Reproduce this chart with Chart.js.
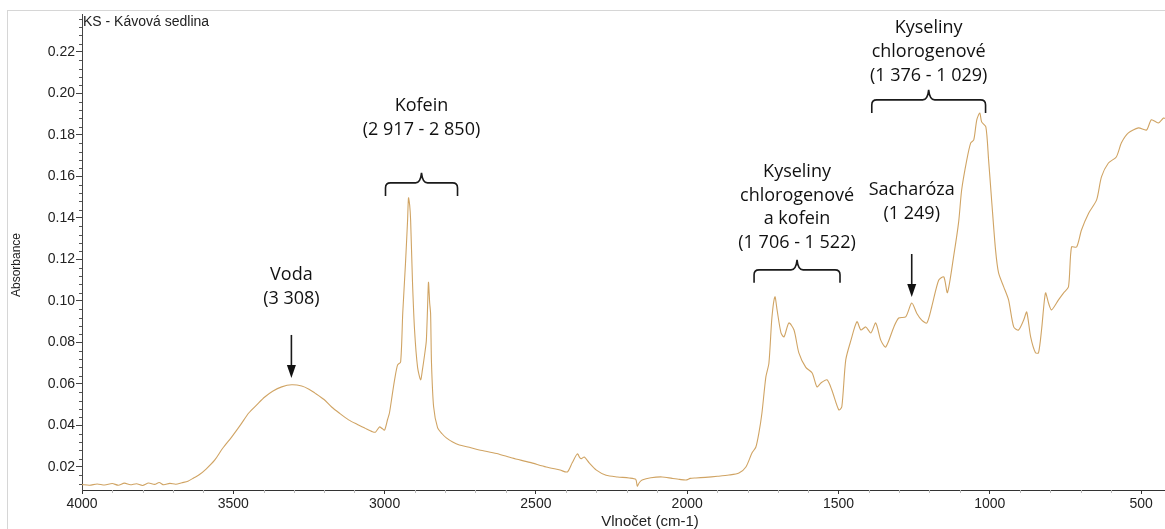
<!DOCTYPE html>
<html>
<head>
<meta charset="utf-8">
<title>KS - Kávová sedlina</title>
<script src="https://cdn.jsdelivr.net/npm/chart.js@4.4.0/dist/chart.umd.min.js"></script>
<style>
  html, body { margin: 0; padding: 0; background: #fff; }
  #wrap { position: relative; width: 1165px; height: 529px; overflow: hidden; }
  #frame { position: absolute; left: 7px; top: 10px; right: -2px; bottom: -2px;
           border-left: 1px solid #d6d6d6; border-top: 1px solid #d6d6d6; }
  #chart-ftir { position: absolute; left: 0; top: 0; }
</style>
</head>
<body>
<div id="wrap">
  <div id="frame"></div>
  <canvas id="chart-ftir" width="1165" height="529"></canvas>
</div>
<script>
// FTIR spektrum - kávová sedlina (vlnočet v cm-1, absorbance)
var wavenumbers = [
    4000, 3975, 3950, 3925, 3900, 3880, 3860, 3840, 3820, 3800,
    3780, 3760, 3745, 3730, 3710, 3690, 3670, 3650, 3630, 3614,
    3590, 3561, 3535, 3505, 3475, 3449, 3420, 3396, 3370, 3340,
    3307, 3274, 3250, 3231, 3200, 3175, 3150, 3119, 3090, 3066,
    3040, 3030, 3017, 3008, 3000, 2990, 2984, 2975, 2967, 2957,
    2947, 2940, 2931, 2924, 2921, 2917, 2914, 2908, 2901, 2891,
    2881, 2875, 2866, 2862, 2858, 2855, 2851, 2848, 2845, 2838,
    2825, 2810, 2796, 2775, 2753, 2720, 2687, 2630, 2578, 2520,
    2466, 2420, 2396, 2380, 2363, 2355, 2350, 2340, 2324, 2300,
    2268, 2230, 2192, 2170, 2165, 2158, 2149, 2120, 2083, 2050,
    2025, 2004, 1990, 1971, 1940, 1900, 1862, 1829, 1806, 1786,
    1773, 1763, 1753, 1740, 1730, 1720, 1710, 1703, 1690, 1680,
    1664, 1647, 1631, 1608, 1587, 1571, 1558, 1538, 1522, 1499,
    1489, 1476, 1459, 1439, 1426, 1410, 1393, 1377, 1360, 1344,
    1317, 1301, 1278, 1258, 1241, 1225, 1208, 1192, 1169, 1152,
    1140, 1119, 1103, 1093, 1076, 1063, 1053, 1043, 1033, 1027,
    1013, 1004, 994, 981, 971, 954, 938, 921, 905, 888,
    878, 865, 849, 839, 829, 816, 806, 796, 773, 756,
    740, 730, 713, 697, 673, 647, 631, 608, 582, 565,
    542, 509, 482, 466, 443, 426, 421
];
var absorbance = [
    0.0115, 0.0112, 0.0118, 0.0113, 0.0120, 0.0112, 0.0122, 0.0114, 0.0119, 0.0111,
    0.0123, 0.0116, 0.0125, 0.0114, 0.0121, 0.0117, 0.0124, 0.0131, 0.0148, 0.0161,
    0.0190, 0.0234, 0.0290, 0.0345, 0.0405, 0.0460, 0.0503, 0.0537, 0.0565, 0.0586,
    0.0596, 0.0590, 0.0575, 0.0557, 0.0525, 0.0489, 0.0460, 0.0427, 0.0405, 0.0388,
    0.0370, 0.0368, 0.0393, 0.0385, 0.0378, 0.0430, 0.0460, 0.0545, 0.0620, 0.0692,
    0.0706, 0.0942, 0.1180, 0.1390, 0.1497, 0.1460, 0.1390, 0.1100, 0.0860, 0.0680,
    0.0620, 0.0668, 0.0760, 0.0810, 0.0970, 0.1090, 0.0990, 0.0940, 0.0700, 0.0490,
    0.0390, 0.0360, 0.0340, 0.0320, 0.0306, 0.0295, 0.0282, 0.0265, 0.0243, 0.0222,
    0.0200, 0.0185, 0.0176, 0.0220, 0.0263, 0.0245, 0.0240, 0.0248, 0.0220, 0.0185,
    0.0160, 0.0152, 0.0147, 0.0140, 0.0108, 0.0125, 0.0137, 0.0148, 0.0152, 0.0145,
    0.0140, 0.0137, 0.0145, 0.0147, 0.0150, 0.0155, 0.0161, 0.0171, 0.0200, 0.0267,
    0.0296, 0.0364, 0.0460, 0.0634, 0.0700, 0.0920, 0.1020, 0.0957, 0.0846, 0.0827,
    0.0894, 0.0860, 0.0750, 0.0680, 0.0653, 0.0586, 0.0605, 0.0620, 0.0571, 0.0475,
    0.0490, 0.0716, 0.0810, 0.0900, 0.0860, 0.0875, 0.0846, 0.0894, 0.0810, 0.0778,
    0.0875, 0.0918, 0.0923, 0.0990, 0.0940, 0.0908, 0.0894, 0.0971, 0.1100, 0.1116,
    0.1040, 0.1220, 0.1380, 0.1535, 0.1680, 0.1762, 0.1776, 0.1873, 0.1906, 0.1863,
    0.1839, 0.1680, 0.1487, 0.1246, 0.1135, 0.1068, 0.1005, 0.0875, 0.0860, 0.0908,
    0.0947, 0.0827, 0.0750, 0.0750, 0.0860, 0.1039, 0.0990, 0.0957, 0.1005, 0.1039,
    0.1068, 0.1260, 0.1260, 0.1342, 0.1424, 0.1487, 0.1598, 0.1665, 0.1694, 0.1762,
    0.1810, 0.1834, 0.1824, 0.1873, 0.1858, 0.1882, 0.1880
];

var xTicks = [4000, 3500, 3000, 2500, 2000, 1500, 1000, 500];
var xMin = 421, xMax = 4000, xMinorStep = 100;
var yMin = 0.0089, yMax = 0.2383, yStep = 0.02, yMinorStep = 0.004;

// popisky pásů
var arrowBands = [
    { lines: ['Voda', '(3 308)'], at: 3308, tip: 0.0629 },
    { lines: ['Sacharóza', '(1 249)'], at: 1258, tip: 0.1019 }
];
var braceBands = [
    { lines: ['Kofein', '(2 917 - 2 850)'], from: 2997, to: 2759, level: 0.1569 },
    { lines: ['Kyseliny', 'chlorogenové', 'a kofein', '(1 706 - 1 522)'], from: 1779, to: 1495, level: 0.1150 },
    { lines: ['Kyseliny', 'chlorogenové', '(1 376 - 1 029)'], from: 1390, to: 1014, level: 0.1969 }
];
// odsazeni posledniho radku textu nad znackou (px)
var arrowTextGap = [49, 53];
var braceTextGap = [48, 22, 19];

var points = wavenumbers.map(function (w, i) {
    return { x: w, y: absorbance[i] };
});

function drawBrace(ctx, x1, x2, y) {
    var xm = (x1 + x2) / 2, r = 5, tip = 13, peak = 10;
    ctx.beginPath();
    ctx.moveTo(x1, y + tip);
    ctx.lineTo(x1, y + r);
    ctx.quadraticCurveTo(x1, y, x1 + r, y);
    ctx.lineTo(xm - 6, y);
    ctx.quadraticCurveTo(xm - 1, y, xm, y - peak);
    ctx.quadraticCurveTo(xm + 1, y, xm + 6, y);
    ctx.lineTo(x2 - r, y);
    ctx.quadraticCurveTo(x2, y, x2, y + r);
    ctx.lineTo(x2, y + tip);
    ctx.stroke();
}

function drawArrow(ctx, x, yTip, len) {
    ctx.beginPath();
    ctx.moveTo(x, yTip - len);
    ctx.lineTo(x, yTip - 10);
    ctx.stroke();
    ctx.beginPath();
    ctx.moveTo(x, yTip);
    ctx.lineTo(x - 4.5, yTip - 13);
    ctx.lineTo(x + 4.5, yTip - 13);
    ctx.closePath();
    ctx.fill();
}

function drawLines(ctx, lines, x, lastBaseline, gap) {
    for (var i = 0; i < lines.length; i++) {
        ctx.fillText(lines[i], x, lastBaseline - (lines.length - 1 - i) * gap);
    }
}

var spectrumLabels = {
    id: 'spectrumLabels',
    afterDraw: function (chart) {
        var ctx = chart.ctx, xs = chart.scales.x, ys = chart.scales.y;
        var area = chart.chartArea;
        ctx.save();

        // vedlejsi dilky os
        ctx.strokeStyle = '#555';
        ctx.lineWidth = 1;
        var k, p;
        for (k = Math.ceil(yMin / yMinorStep); k * yMinorStep <= yMax; k++) {
            if (k % 5 === 0) continue;
            p = Math.round(ys.getPixelForValue(k * yMinorStep)) + 0.5;
            ctx.beginPath();
            ctx.moveTo(area.left - 3, p);
            ctx.lineTo(area.left, p);
            ctx.stroke();
        }
        ctx.strokeStyle = '#bbb';
        for (k = Math.ceil(xMin / xMinorStep); k * xMinorStep <= xMax; k++) {
            if (k % 5 === 0) continue;
            p = Math.round(xs.getPixelForValue(k * xMinorStep)) + 0.5;
            ctx.beginPath();
            ctx.moveTo(p, area.bottom);
            ctx.lineTo(p, area.bottom + 3);
            ctx.stroke();
        }

        // nazev vzorku a popisky os
        ctx.fillStyle = '#222';
        ctx.font = '14px "Liberation Sans", Arial, sans-serif';
        ctx.textAlign = 'left';
        ctx.textBaseline = 'middle';
        ctx.fillText('KS - Kávová sedlina', area.left + 1, 22);

        ctx.font = '15px "Liberation Sans", Arial, sans-serif';
        ctx.textAlign = 'center';
        ctx.fillText('Vlnočet (cm-1)', 650, 522);

        ctx.save();
        ctx.translate(17, 265);
        ctx.rotate(-Math.PI / 2);
        ctx.font = '12px "Liberation Sans", Arial, sans-serif';
        ctx.fillText('Absorbance', 0, 0);
        ctx.restore();

        // sipky a slozene zavorky
        ctx.strokeStyle = '#1a1a1a';
        ctx.fillStyle = '#111';
        ctx.lineWidth = 1.6;
        ctx.font = '18px "Open Sans", sans-serif';
        ctx.textAlign = 'center';
        ctx.textBaseline = 'alphabetic';

        arrowBands.forEach(function (b, i) {
            var x = xs.getPixelForValue(b.at);
            var yTip = ys.getPixelForValue(b.tip);
            drawArrow(ctx, x, yTip, 43);
            drawLines(ctx, b.lines, x, yTip - 43 - arrowTextGap[i] + 18, 24);
        });

        braceBands.forEach(function (b, i) {
            var x1 = xs.getPixelForValue(b.from);
            var x2 = xs.getPixelForValue(b.to);
            var y = ys.getPixelForValue(b.level);
            drawBrace(ctx, x1, x2, y);
            drawLines(ctx, b.lines, (x1 + x2) / 2, y - braceTextGap[i], i === 1 ? 23.5 : 24);
        });

        ctx.restore();
    }
};

var ctx1 = document.getElementById('chart-ftir').getContext('2d');
Chart.defaults.font.family = '"Liberation Sans", Arial, sans-serif';

var ftirChart = new Chart(ctx1, {
    type: 'line',
    data: {
        datasets: [{
            label: 'KS - Kávová sedlina',
            data: points,
            borderColor: '#d0a464',
            borderWidth: 1.1,
            pointRadius: 0,
            tension: 0.25,
            fill: false
        }]
    },
    options: {
        responsive: false,
        animation: false,
        layout: { padding: { top: 14, left: 0, right: 0, bottom: 0 } },
        plugins: {
            legend: { display: false },
            tooltip: { enabled: false }
        },
        scales: {
            x: {
                type: 'linear',
                reverse: true,
                min: xMin,
                max: xMax,
                afterBuildTicks: function (scale) {
                    scale.ticks = xTicks.map(function (v) { return { value: v }; });
                },
                afterFit: function (scale) { scale.height = 39; },
                grid: { drawOnChartArea: false, drawTicks: true, tickLength: 4, tickColor: '#333' },
                border: { color: '#333', width: 1 },
                ticks: {
                    autoSkip: false,
                    maxRotation: 0,
                    padding: 2,
                    color: '#222',
                    font: { size: 14 },
                    callback: function (value) { return String(value); }
                }
            },
            y: {
                min: yMin,
                max: yMax,
                afterFit: function (scale) { scale.width = 82; },
                grid: { drawOnChartArea: false, drawTicks: true, tickLength: 6, tickColor: '#444' },
                border: { color: '#444', width: 1 },
                ticks: {
                    stepSize: yStep,
                    includeBounds: false,
                    padding: 1,
                    color: '#222',
                    font: { size: 14 },
                    callback: function (value) { return value.toFixed(2); }
                }
            }
        }
    },
    plugins: [spectrumLabels]
});
</script>
</body>
</html>
